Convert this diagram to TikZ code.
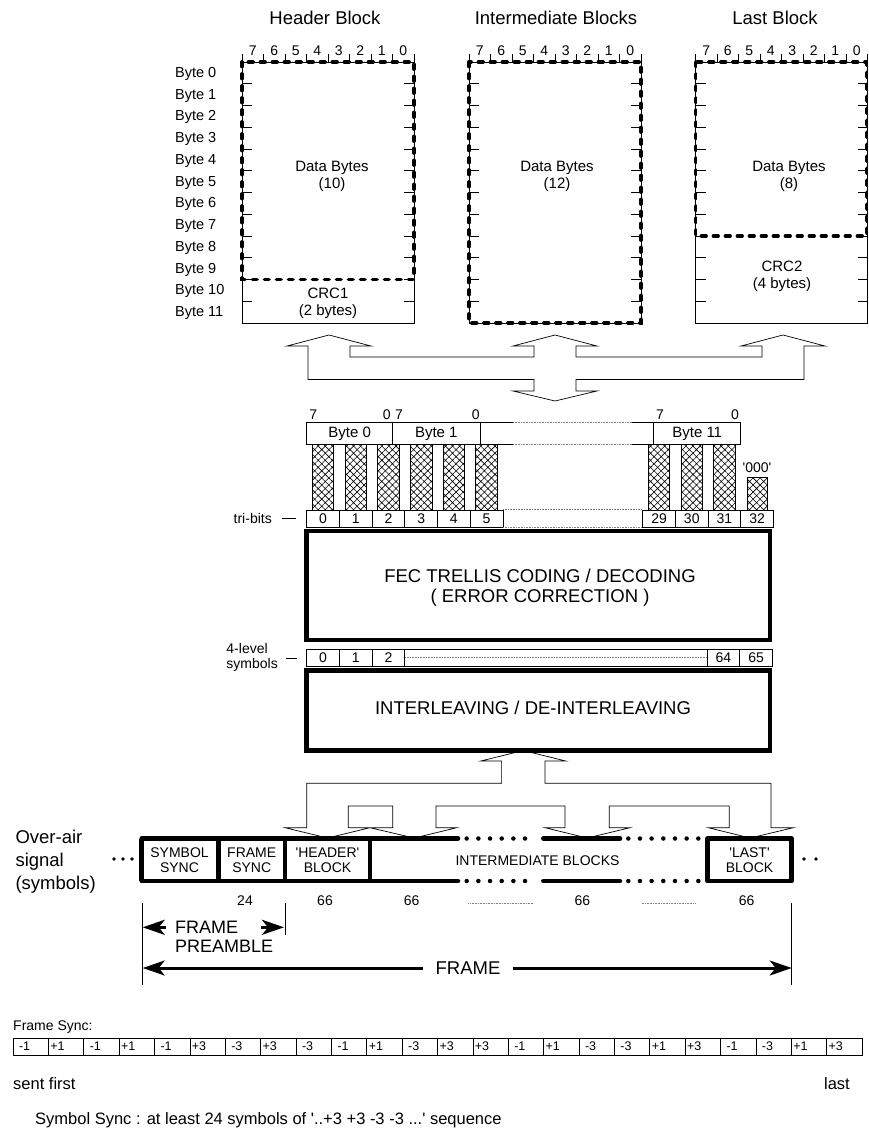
\documentclass[tikz,border=0pt]{standalone}
\usepackage{fontspec}
\setmainfont{Liberation Sans}
\usetikzlibrary{arrows.meta,patterns.meta}
\newcommand{\sq}{\textquotesingle}

\begin{document}
\begin{tikzpicture}[x=1pt,y=-1pt,
  thinbox/.style={line width=0.7pt},
  bigdash/.style={line width=3.8pt, dash pattern=on 4.5pt off 7.5pt, line cap=round},
  heavy/.style={line width=4.5pt},
  dotrow/.style={line width=4.5pt, dash pattern=on 0pt off 11.67pt, line cap=round},
  dotline/.style={line width=0.6pt, densely dotted, gray},
  hatchbar/.style={line width=0.7pt, pattern={Hatch[angle=45,distance=5pt,line width=0.6pt]}},
  ttl/.style={font=\fontsize{18.5}{19}\selectfont},
  txt/.style={font=\fontsize{15}{17}\selectfont, align=center, inner sep=0pt},
  lbl/.style={font=\fontsize{14}{15}\selectfont, inner sep=0pt},
  low/.style={font=\fontsize{16.5}{17}\selectfont, inner sep=0pt},
  cell/.style={draw, line width=0.7pt, minimum width=32.7pt, minimum height=17pt, inner sep=0pt, font=\fontsize{14}{14}\selectfont},
  fscell/.style={draw, line width=0.7pt, minimum height=17pt, inner xsep=2pt, inner ysep=0pt, text width=31.375pt, align=left, font=\fontsize{12.5}{12.5}\selectfont},
  fr/.style={font=\fontsize{14}{15.3}\selectfont, align=center, inner sep=0pt},
  bigarrow/.style={line width=3pt, -{Stealth[length=22pt,width=15pt,inset=6pt]}},
]
\fill[white] (0,0) rectangle (869,1132);
\useasboundingbox (0,0) rectangle (869,1132);

% byte blocks
\node[ttl] (hdrT) at (325,18) {Header Block};
\node[ttl] (midT) at (556,18) {Intermediate Blocks};
\node[ttl] (lstT) at (775,18) {Last Block};
\foreach \L/\nm in {242/hdr,469/mid,695.5/lst} {
  \draw[thinbox] (\L,62) rectangle ++(172,261);
  \foreach \k in {0,...,8} \draw[thinbox] (\L+21.5*\k,62) -- ++(0,-8);
  \foreach \k [evaluate=\k as \b using int(7-\k)] in {0,...,7}
    \node[lbl] (\nm-b\k) at (\L+21.5*\k+10.75,51) {\b};
  \foreach \r in {1,...,11} {
    \draw[thinbox] (\L,62+21.75*\r) -- ++(10,0);
    \draw[thinbox] (\L+172,62+21.75*\r) -- ++(-10,0);
  }
}
\foreach \r in {0,...,11} \node[lbl, anchor=west, font=\fontsize{14.5}{15}\selectfont] (byte\r) at (175,73.9+21.75*\r) {Byte \r};
\draw[bigdash] (242,62) rectangle (414,279.5);
\draw[bigdash] (469,62) rectangle (641,323);
\draw[bigdash] (695.5,62) rectangle (866.5,236);
\node[txt] (hdrD) at (332,176) {Data Bytes\\(10)};
\node[txt] (hdrC) at (328,303) {CRC1\\(2 bytes)};
\node[txt] (midD) at (557,176) {Data Bytes\\(12)};
\node[txt] (lstD) at (789,176) {Data Bytes\\(8)};
\node[txt] (lstC) at (782,276) {CRC2\\(4 bytes)};

% upper hollow arrows
\draw[thinbox] (329,335) -- (371,346) -- (350,346) -- (350,357) -- (534,357) -- (534,346) -- (513,346)
  -- (555,335) -- (597,346) -- (576,346) -- (576,357) -- (762,357) -- (762,346) -- (741,346)
  -- (783,335) -- (825,346) -- (804,346) -- (804,379.5) -- (576,379.5) -- (576,391) -- (597,391)
  -- (555,401) -- (513,391) -- (534,391) -- (534,379.5) -- (308,379.5) -- (308,346) -- (287,346) -- cycle;

% byte row
\draw[thinbox] (306.7,422.7) rectangle (480,444.3);
\draw[thinbox] (392.7,422.7) -- (392.7,444.3);
\draw[thinbox] (480,422.7) -- (513,422.7) (480,444.3) -- (513,444.3);
\draw[dotline] (513,422.7) -- (631.7,422.7) (513,444.3) -- (631.7,444.3);
\draw[thinbox] (631.7,422.7) -- (653.6,422.7) (631.7,444.3) -- (653.6,444.3);
\draw[thinbox] (653.6,422.7) rectangle (740.8,444.3);
\node[lbl, font=\fontsize{15}{15}\selectfont] (by0) at (349.7,433.5) {Byte 0};
\node[lbl, font=\fontsize{15}{15}\selectfont] (by1) at (436.3,433.5) {Byte 1};
\node[lbl, font=\fontsize{15}{15}\selectfont] (by11) at (697.2,433.5) {Byte 11};
\node[lbl] (by0h) at (313.3,415) {7};
\node[lbl] (by0l) at (386.7,415) {0};
\node[lbl] (by1h) at (399,415) {7};
\node[lbl] (by1l) at (475.7,415) {0};
\node[lbl] (by11h) at (660,415) {7};
\node[lbl] (by11l) at (735,415) {0};

% tri-bit bars
\foreach \i in {0,...,5} \draw[hatchbar] (312.3+32.7*\i,444.3) rectangle ++(21.5,65.7);
\foreach \i in {0,1,2} \draw[hatchbar] (648.3+32.7*\i,444.3) rectangle ++(21.5,65.7);
\draw[hatchbar] (747.1,477.7) rectangle (767.1,510);
\node[lbl] (pad) at (757,468) {\sq000\sq};

% tri-bits row
\foreach \i in {0,...,5} \node[cell] (t\i) at (323.05+32.7*\i,518.5) {\i};
\foreach \n [count=\j from 0] in {29,30,31,32} \node[cell] (t\n) at (659.05+32.7*\j,518.5) {\n};
\draw[dotline] (t5.north east) -- (t29.north west) (t5.south east) -- (t29.south west);
\node[lbl, anchor=east] (tribits) at (272,518.5) {tri-bits};
\draw[thinbox] (282,518.5) -- (296,518.5);

% FEC
\draw[heavy] (306.5,531) rectangle (770,640);
\node[ttl, align=center] (fec) at (540,587.5) {FEC TRELLIS CODING / DECODING\\[1pt]( ERROR CORRECTION )};

% 4-level symbols
\draw[thinbox] (306.7,649) rectangle (772.5,666.5);
\node[cell] (s0) at (323.05,657.75) {0};
\node[cell] (s1) at (355.75,657.75) {1};
\node[cell] (s2) at (388.45,657.75) {2};
\node[cell] (s64) at (723.45,657.75) {64};
\node[cell] (s65) at (756.15,657.75) {65};
\draw[dotline] (s2.east) -- (s64.west);
\node[lbl, anchor=east, align=left] (lvl) at (278,657.5) {4-level\\symbols};
\draw[thinbox] (286,658) -- (297,658);

% interleaving
\draw[heavy] (306.5,670.5) rectangle (770,750.5);
\node[ttl] (ilv) at (533,708) {INTERLEAVING / DE-INTERLEAVING};

% lower hollow arrows
\draw[thinbox] (523.3,750.5) -- (565.8,761) -- (545,761) -- (545,783.3) -- (771,783.3) -- (771,827.7)
  -- (793.3,827.7) -- (750.2,838) -- (708.3,827.7) -- (729.3,827.7) -- (729.3,806) -- (609.3,806)
  -- (609.3,827.7) -- (630,827.7) -- (587.2,838) -- (545,827.7) -- (565,827.7) -- (565,806)
  -- (436,806) -- (436,827.7) -- (456.7,827.7) -- (414.3,838) -- (370,827.7) -- (392.7,827.7)
  -- (392.7,806) -- (348.3,806) -- (348.3,827.7) -- (370,827.7) -- (327.5,838) -- (285,827.7)
  -- (306.7,827.7) -- (306.7,783.3) -- (501.6,783.3) -- (501.6,761) -- (480.8,761) -- cycle;
\draw[heavy] (306.5,670.5) -- (770,670.5);
\draw[heavy] (304.25,750.5) -- (772.25,750.5);

% over-air frame
\node[ttl, align=left, anchor=west, font=\fontsize{18.5}{23}\selectfont] (ovr) at (12,862) {Over-air\\signal\\(symbols)};
\foreach \x in {114,123,132} \fill (\x,859) circle (1.9);
\foreach \x in {792,804,816} \fill (\x,859) circle (1.9);
\foreach \y in {838.5,881} {
  \draw[heavy, line cap=round] (141.7,\y) -- (458,\y);
  \draw[dotrow] (466.7,\y) -- (536.7,\y);
  \draw[heavy, line cap=round] (543.3,\y) -- (620,\y);
  \draw[dotrow] (628.3,\y) -- (700,\y);
  \draw[heavy, line cap=round] (707.3,\y) -- (791.7,\y);
}
\foreach \x in {141.7,218.3,285,370,707.3,791.7} \draw[heavy] (\x,838.5) -- (\x,881);
\node[fr] (symsync) at (179.5,860.5) {SYMBOL\\SYNC};
\node[fr] (frsync) at (251.7,860.5) {FRAME\\SYNC};
\node[fr] (hdrblk) at (327.5,860.5) {\sq HEADER\sq\\BLOCK};
\node[fr] (midblk) at (537.5,860.7) {INTERMEDIATE BLOCKS};
\node[fr] (lstblk) at (749.5,860.5) {\sq LAST\sq\\BLOCK};

% symbol counts
\node[lbl] (c24) at (245,900.7) {24};
\node[lbl] (c66a) at (325,900.7) {66};
\node[lbl] (c66b) at (411.7,900.7) {66};
\node[lbl] (c66c) at (582.3,900.7) {66};
\node[lbl] (c66d) at (746.7,900.7) {66};
\draw[dotline] (468.3,903.3) -- (533.3,903.3);
\draw[dotline] (641.7,903.3) -- (696,903.3);

% preamble and frame extents
\draw[thinbox] (142.7,903.3) -- (142.7,985);
\draw[thinbox] (285,903.3) -- (285,935);
\draw[thinbox] (791.7,903.3) -- (791.7,985);
\coordinate (pl) at (142.7,927.3);
\coordinate (plin) at (166,927.3);
\coordinate (pr) at (284,927.3);
\coordinate (prin) at (261,927.3);
\draw[bigarrow] (plin) -- (pl);
\draw[bigarrow] (prin) -- (pr);
\node[ttl, anchor=west, align=left, font=\fontsize{18}{19}\selectfont, inner sep=0pt] (pre) at (175,936.5) {FRAME\\PREAMBLE};
\coordinate (fl) at (142.7,968);
\coordinate (fr) at (791.7,968);
\node[ttl, inner sep=12pt] (frm) at (468,968) {FRAME};
\draw[bigarrow] (frm) -- (fl);
\draw[bigarrow] (frm) -- (fr);

% frame sync
\node[lbl, anchor=west] (fsl) at (13,1027) {Frame Sync:};
\foreach \v/\o [count=\i from 0] in {-1/4,+1/0,-1/4,+1/0,-1/4,+3/0,-3/4,+3/0,-3/4,-1/4,+1/0,-3/4,+3/0,+3/0,-1/4,+1/0,-3/4,-3/4,+1/0,+3/0,-1/4,-3/4,+1/0,+3/0}
  \node[fscell] (fs\i) at (30.69+35.375*\i,1046.5) {\hspace*{\o pt}\v};
\node[low, anchor=west] (first) at (13,1084) {sent first};
\node[low, anchor=east] (last) at (850,1084) {last};
\node[low, anchor=west] (ssync) at (35,1120) {Symbol Sync : at least 24 symbols of \sq..+3 +3 -3 -3 ...\sq\ sequence};
\end{tikzpicture}
\end{document}
